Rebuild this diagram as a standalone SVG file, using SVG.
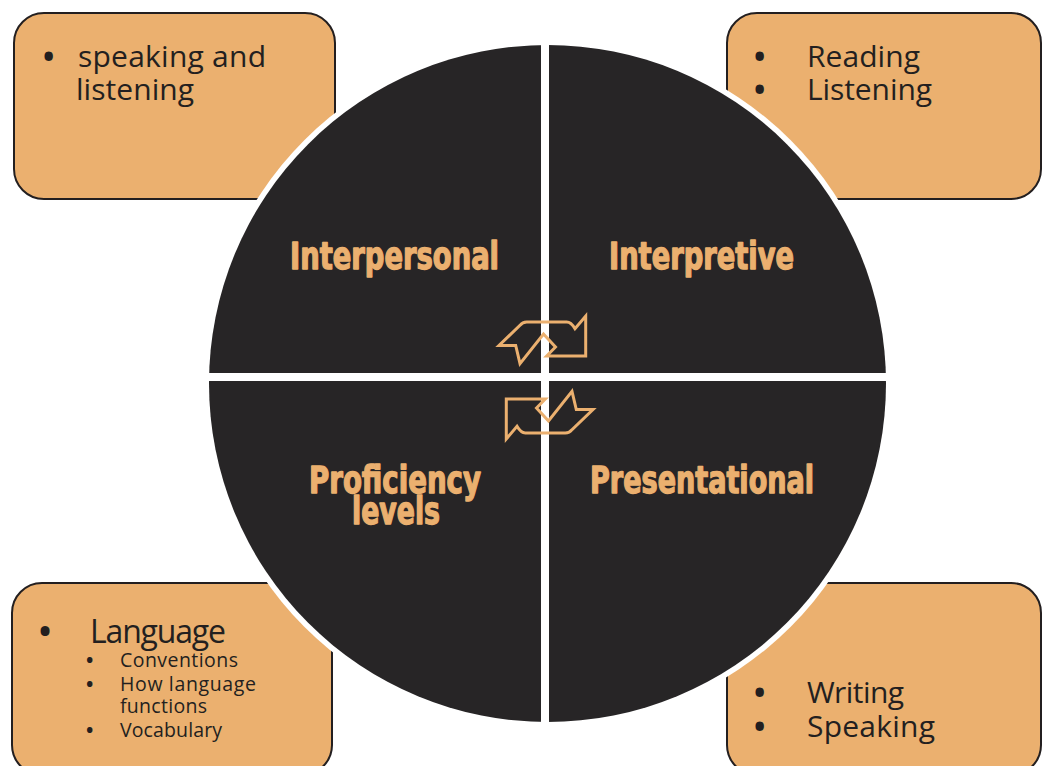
<svg xmlns="http://www.w3.org/2000/svg" width="1043" height="766" viewBox="0 0 1043 766">
  <style>
    .box { fill: #EBB06F; stroke: #231F20; stroke-width: 2; }
    .txt { font-family: "Open Sans", "Noto Sans", "Liberation Sans", sans-serif; fill: #231F20; }
    .dot { font-weight: bold; }
    .big { font-size: 30px; }
    .lang { font-size: 32px; }
    .small { font-size: 19.5px; }
    .title { font-family: "Liberation Sans Narrow", "DejaVu Sans Condensed", "DejaVu Sans", sans-serif; font-weight: bold; font-stretch: condensed; font-size: 37px; fill: #EBB06F; stroke: #EBB06F; stroke-width: 1.3; stroke-linejoin: round; }
    .cyc { fill: none; stroke: #EBB06F; stroke-width: 3; stroke-linejoin: miter; }
  </style>
  <defs>
    <path id="cycle" d="M499,345.5 L515.7,345.5 L520,363.7 L543.5,334 L555.5,347 L546.7,356 L585.7,356 L585.7,316 L575,328.7 Q571,322 566.7,322 L526.7,322 Q522.5,322 520,325.3 Z"/>
  </defs>

  <rect width="1043" height="766" fill="#FFFFFF"/>

  <!-- corner boxes -->
  <g id="box-interpersonal">
    <rect class="box" x="14" y="13" width="321" height="186" rx="30"/>
    <text class="txt big dot" x="43" y="67">•</text>
    <text class="txt big" x="78" y="67" textLength="188">speaking and</text>
    <text class="txt big" x="76" y="100" textLength="118">listening</text>
  </g>
  <g id="box-interpretive">
    <rect class="box" x="727" y="13" width="314" height="186" rx="30"/>
    <text class="txt big dot" x="754" y="67">•</text>
    <text class="txt big" x="807" y="67" textLength="113">Reading</text>
    <text class="txt big dot" x="754" y="100">•</text>
    <text class="txt big" x="807" y="100" textLength="125">Listening</text>
  </g>
  <g id="box-proficiency">
    <rect class="box" x="12" y="583" width="320" height="192" rx="30"/>
    <text class="txt lang dot" x="39" y="643">•</text>
    <text class="txt lang" x="90" y="643" textLength="136">Language</text>
    <text class="txt small dot" x="86" y="667">•</text>
    <text class="txt small" x="120" y="667" textLength="118">Conventions</text>
    <text class="txt small dot" x="86" y="691">•</text>
    <text class="txt small" x="120" y="691" textLength="136">How language</text>
    <text class="txt small" x="120" y="713" textLength="87">functions</text>
    <text class="txt small dot" x="86" y="737">•</text>
    <text class="txt small" x="120" y="737" textLength="102">Vocabulary</text>
  </g>
  <g id="box-presentational">
    <rect class="box" x="727" y="583" width="314" height="192" rx="30"/>
    <text class="txt big dot" x="754" y="703">•</text>
    <text class="txt big" x="807" y="703" textLength="97">Writing</text>
    <text class="txt big dot" x="754" y="737">•</text>
    <text class="txt big" x="807" y="737" textLength="128">Speaking</text>
  </g>

  <!-- central four-part circle -->
  <g id="circle">
    <circle cx="547.5" cy="383.5" r="344" fill="#FFFFFF"/>
    <circle cx="547.5" cy="383.5" r="338.5" fill="#272526"/>
    <rect x="541" y="30" width="8" height="710" fill="#FFFFFF"/>
    <rect x="200" y="373" width="700" height="8" fill="#FFFFFF"/>
  </g>

  <g id="quadrant-interpersonal">
    <text class="title" x="290" y="269" textLength="209" lengthAdjust="spacingAndGlyphs">Interpersonal</text>
  </g>
  <g id="quadrant-interpretive">
    <text class="title" x="609" y="269" textLength="185" lengthAdjust="spacingAndGlyphs">Interpretive</text>
  </g>
  <g id="quadrant-proficiency">
    <text class="title" x="309" y="493" textLength="172" lengthAdjust="spacingAndGlyphs">Proficiency</text>
    <text class="title" x="352" y="524" textLength="88" lengthAdjust="spacingAndGlyphs">levels</text>
  </g>
  <g id="quadrant-presentational">
    <text class="title" x="590" y="493" textLength="224" lengthAdjust="spacingAndGlyphs">Presentational</text>
  </g>

  <!-- cycle arrows between the quadrants -->
  <g id="connectors">
    <use href="#cycle" class="cyc"/>
    <use href="#cycle" class="cyc" transform="rotate(180 546 377.5)"/>
  </g>
</svg>
